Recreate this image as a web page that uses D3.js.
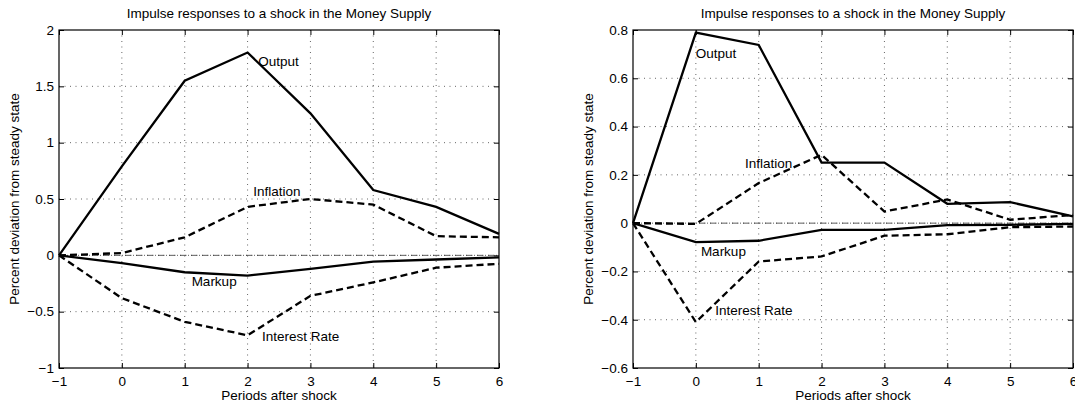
<!DOCTYPE html>
<html>
<head>
<meta charset="utf-8">
<script src="https://cdnjs.cloudflare.com/ajax/libs/d3/7.8.5/d3.min.js"></script>
<style>
  body { margin: 0; background: #fff; }
  text { font-family: "Liberation Sans", Arial, Helvetica, sans-serif; fill: #000; }
</style>
</head>
<body>
<script>
var periods = [-1, 0, 1, 2, 3, 4, 5, 6];
var xTicks = [-1, 0, 1, 2, 3, 4, 5, 6];

// left panel
var leftOutput    = [0, 0.79, 1.55, 1.80, 1.26, 0.58, 0.43, 0.19];
var leftInflation = [0, 0.02, 0.16, 0.43, 0.50, 0.45, 0.17, 0.16];
var leftMarkup    = [0, -0.07, -0.15, -0.18, -0.12, -0.055, -0.037, -0.018];
var leftInterest  = [0, -0.38, -0.59, -0.71, -0.36, -0.24, -0.11, -0.075];
var leftYTicks = [-1, -0.5, 0, 0.5, 1, 1.5, 2];

// right panel
var rightOutput    = [0, 0.789, 0.738, 0.251, 0.251, 0.08, 0.087, 0.028];
var rightInflation = [0, -0.003, 0.166, 0.283, 0.048, 0.098, 0.014, 0.034];
var rightMarkup    = [0, -0.079, -0.073, -0.028, -0.028, -0.008, -0.007, -0.003];
var rightInterest  = [0, -0.41, -0.159, -0.138, -0.052, -0.046, -0.017, -0.014];
var rightYTicks = [-0.6, -0.4, -0.2, 0, 0.2, 0.4, 0.6, 0.8];

var titleText = 'Impulse responses to a shock in the Money Supply';
var xLabel = 'Periods after shock';
var yLabel = 'Percent deviation from steady state';

var width = 1075,
	height = 408;

var svg = d3.select('body')
	.append('svg')
	.attr('width', width)
	.attr('height', height);

var fmt = d => String(d).replace('-', '\u2212');

function drawPanel(left, yTicks, series, labels) {
	var w = 440, h = 338, top = 30;
	var g = svg.append('g').attr('transform', `translate(${left}, ${top})`);

	var x = d3.scaleLinear().domain([-1, 6]).range([0, w]);
	var y = d3.scaleLinear().domain([yTicks[0], yTicks[yTicks.length - 1]]).range([h, 0]);

	// dotted grid
	g.append('g').selectAll('line')
		.data(xTicks.slice(1, -1))
		.enter().append('line')
		.attr('x1', d => x(d)).attr('x2', d => x(d))
		.attr('y1', 0).attr('y2', h)
		.attr('stroke', '#555').attr('stroke-width', 0.9)
		.attr('stroke-dasharray', '1,4.5');
	g.append('g').selectAll('line')
		.data(yTicks.slice(1, -1))
		.enter().append('line')
		.attr('x1', 0).attr('x2', w)
		.attr('y1', d => y(d)).attr('y2', d => y(d))
		.attr('stroke', '#555').attr('stroke-width', 0.9)
		.attr('stroke-dasharray', '1,4.5');

	// zero reference line
	g.append('line')
		.attr('x1', 0).attr('x2', w)
		.attr('y1', y(0)).attr('y2', y(0))
		.attr('stroke', '#333').attr('stroke-width', 0.8)
		.attr('stroke-dasharray', '6,2,1,2');

	// axes, ticks pointing inward
	var fontSize = '13.5px';
	var ax = [
		{ axis: d3.axisBottom(x).tickValues(xTicks).tickFormat(fmt).tickPadding(8), t: `translate(0, ${h})` },
		{ axis: d3.axisTop(x).tickValues(xTicks).tickFormat(''), t: 'translate(0, 0)' },
		{ axis: d3.axisLeft(y).tickValues(yTicks).tickFormat(fmt).tickPadding(5), t: 'translate(0, 0)' },
		{ axis: d3.axisRight(y).tickValues(yTicks).tickFormat(''), t: `translate(${w}, 0)` }
	];
	ax.forEach(a => {
		var ag = g.append('g').attr('transform', a.t)
			.call(a.axis.tickSizeInner(-5).tickSizeOuter(0));
		ag.select('.domain').remove();
		ag.selectAll('line').attr('stroke', '#000');
		ag.selectAll('text').style('font-size', fontSize).attr('fill', '#000');
	});

	var line = d3.line()
		.x((d, i) => x(periods[i]))
		.y(d => y(d));

	series.forEach(s => {
		g.append('path')
			.datum(s.values)
			.attr('d', line)
			.attr('fill', 'none')
			.attr('stroke', '#000')
			.attr('stroke-width', 2.3)
			.attr('stroke-linejoin', 'miter')
			.attr('stroke-dasharray', s.dashed ? '7,4' : null);
	});

	// box
	g.append('rect')
		.attr('width', w).attr('height', h)
		.attr('fill', 'none').attr('stroke', '#000').attr('stroke-width', 1.2);

	labels.forEach(l => {
		g.append('text')
			.attr('x', x(l.x))
			.attr('y', y(l.y))
			.attr('dy', '0.35em')
			.style('font-size', fontSize)
			.text(l.text);
	});

	g.append('text')
		.attr('x', w / 2).attr('y', -12)
		.attr('text-anchor', 'middle')
		.style('font-size', fontSize)
		.text(titleText);

	g.append('text')
		.attr('x', w / 2).attr('y', h + 32)
		.attr('text-anchor', 'middle')
		.style('font-size', fontSize)
		.text(xLabel);

	g.append('text')
		.attr('transform', `translate(-40.5, ${h / 2}) rotate(-90)`)
		.attr('text-anchor', 'middle')
		.style('font-size', fontSize)
		.text(yLabel);
}

drawPanel(59, leftYTicks, [
	{ values: leftOutput, dashed: false },
	{ values: leftInflation, dashed: true },
	{ values: leftMarkup, dashed: false },
	{ values: leftInterest, dashed: true }
], [
	{ text: 'Output', x: 2.17, y: 1.72 },
	{ text: 'Inflation', x: 2.09, y: 0.57 },
	{ text: 'Markup', x: 1.11, y: -0.23 },
	{ text: 'Interest Rate', x: 2.23, y: -0.72 }
]);

drawPanel(633, rightYTicks, [
	{ values: rightOutput, dashed: false },
	{ values: rightInflation, dashed: true },
	{ values: rightMarkup, dashed: false },
	{ values: rightInterest, dashed: true }
], [
	{ text: 'Output', x: 0.0, y: 0.705 },
	{ text: 'Inflation', x: 0.78, y: 0.25 },
	{ text: 'Markup', x: 0.08, y: -0.115 },
	{ text: 'Interest Rate', x: 0.31, y: -0.36 }
]);
</script>
</body>
</html>
